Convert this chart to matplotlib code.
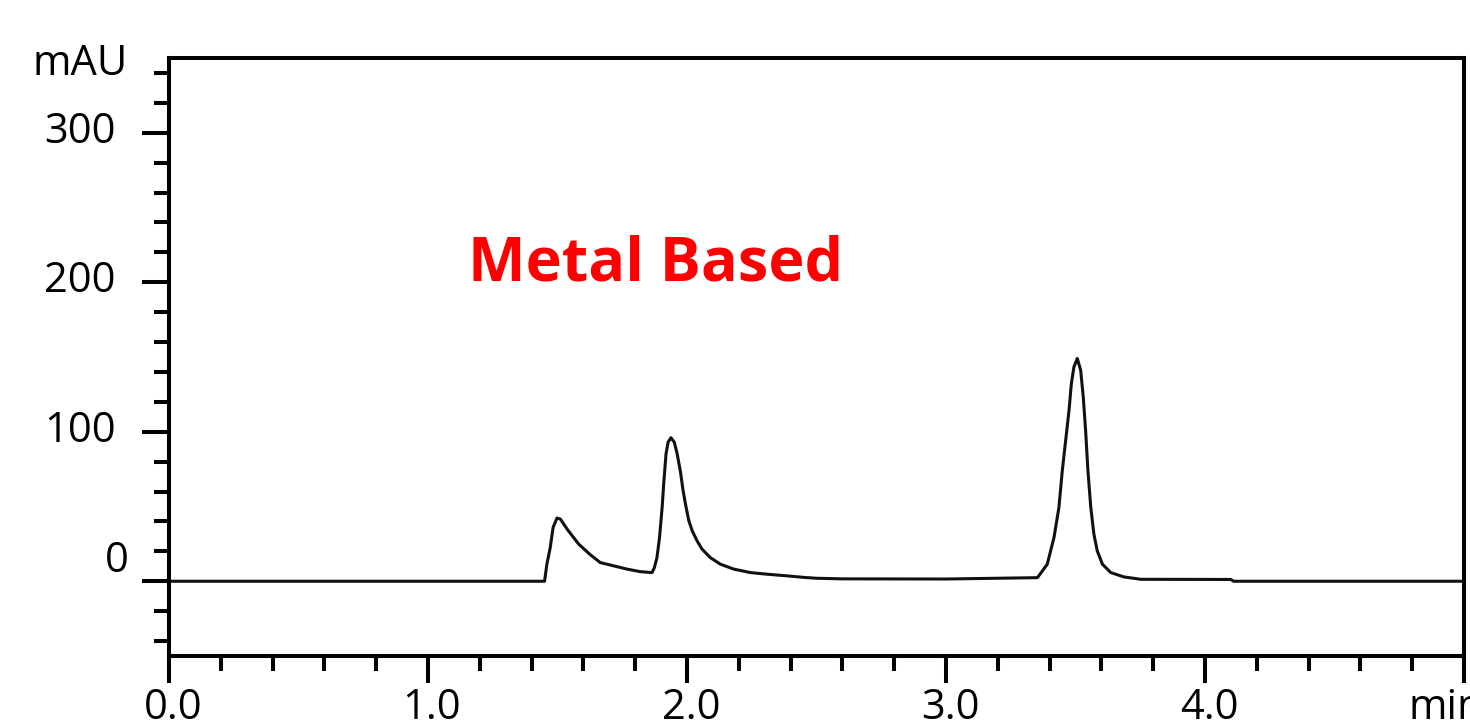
import matplotlib
matplotlib.use("Agg")
import matplotlib.pyplot as plt
from matplotlib.ticker import MultipleLocator, FixedLocator
from matplotlib.transforms import ScaledTranslation

# chromatogram trace (min, mAU)
time_min = [0.00, 1.20, 1.450, 1.459, 1.472, 1.483, 1.498, 1.511, 1.537, 1.582,
            1.627, 1.665, 1.717, 1.769, 1.820, 1.865, 1.874, 1.884, 1.894, 1.904,
            1.910, 1.919, 1.927, 1.938, 1.951, 1.962, 1.974, 1.985, 1.994, 2.007,
            2.020, 2.039, 2.058, 2.090, 2.129, 2.181, 2.245, 2.310, 2.387, 2.45,
            2.50, 2.60, 3.00, 3.353, 3.391, 3.417, 3.436, 3.449, 3.462, 3.475,
            3.484, 3.494, 3.507, 3.520, 3.530, 3.539, 3.548, 3.559, 3.571, 3.584,
            3.604, 3.636, 3.687, 3.752, 4.10, 4.11, 5.00]
absorbance_mau = [0.0, 0.0, 0.0, 11.4, 22.6, 36.0, 42.3, 41.6, 34.9, 24.8,
                  17.7, 12.5, 10.3, 8.1, 6.4, 5.8, 9.1, 15.8, 29.3, 49.4,
                  65.1, 85.2, 93.0, 96.0, 93.0, 85.2, 74.0, 60.6, 51.7, 40.5,
                  33.8, 27.0, 21.5, 15.8, 11.4, 8.1, 5.8, 4.7, 3.6, 2.6,
                  2.0, 1.6, 1.5, 2.4, 11.4, 29.3, 49.4, 74.0, 94.2, 114.3,
                  132.2, 143.4, 149.0, 141.1, 123.2, 100.9, 74.0, 49.4, 31.5, 20.3,
                  11.4, 5.8, 2.9, 1.3, 1.2, 0.0, 0.0]

y_major = [0, 100, 200, 300]
x_major = [0, 1, 2, 3, 4, 5]
x_labels = ["0.0", "1.0", "2.0", "3.0", "4.0", "min"]
title_text = "Metal Based"

plt.rcParams['font.family'] = ['Open Sans', 'DejaVu Sans']

fig = plt.figure(figsize=(14.7, 7.27), dpi=100)
ax = fig.add_axes([169/1470, 1 - 656/727, (1464-169)/1470, (656-58)/727])

ax.plot(time_min, absorbance_mau, color='#111111', lw=2.2, solid_joinstyle='round')

ax.set_xlim(0, 5)
ax.set_ylim(-50, 350)

for sp in ax.spines.values():
    sp.set_linewidth(2.9)

ax.yaxis.set_major_locator(FixedLocator(y_major))
ax.yaxis.set_minor_locator(MultipleLocator(20))
ax.xaxis.set_major_locator(FixedLocator(x_major))
ax.xaxis.set_minor_locator(MultipleLocator(0.2))
ax.set_xticklabels(x_labels)
ax.set_yticklabels([str(v) for v in y_major])

ax.tick_params(which='major', length=19.5, width=2.9, labelsize=30, color='black')
ax.tick_params(which='minor', length=10.5, width=2.9)
ax.tick_params(axis='y', pad=19)
ax.tick_params(axis='x', pad=3)

# the "0" label sits higher and further right in the original
lbl0 = ax.get_yticklabels()[0]
lbl0.set_transform(lbl0.get_transform() + ScaledTranslation(13/100, 25/100, fig.dpi_scale_trans))
for lbl in ax.get_yticklabels()[1:]:
    lbl.set_transform(lbl.get_transform() + ScaledTranslation(0, 6/100, fig.dpi_scale_trans))
for lbl in ax.get_xticklabels()[:-1]:
    lbl.set_transform(lbl.get_transform() + ScaledTranslation(4/100, 0, fig.dpi_scale_trans))
lblmin = ax.get_xticklabels()[-1]
lblmin.set_transform(lblmin.get_transform() + ScaledTranslation(-18/100, 0, fig.dpi_scale_trans))

fig.text(128/1470, 1 - 75/727, "mAU", ha='right', va='baseline', fontsize=30)

ax.text(1.155, 201.5, title_text, color='#ff0000', fontsize=44, fontweight='bold',
        ha='left', va='baseline')

fig.savefig("out.png", dpi=100)
